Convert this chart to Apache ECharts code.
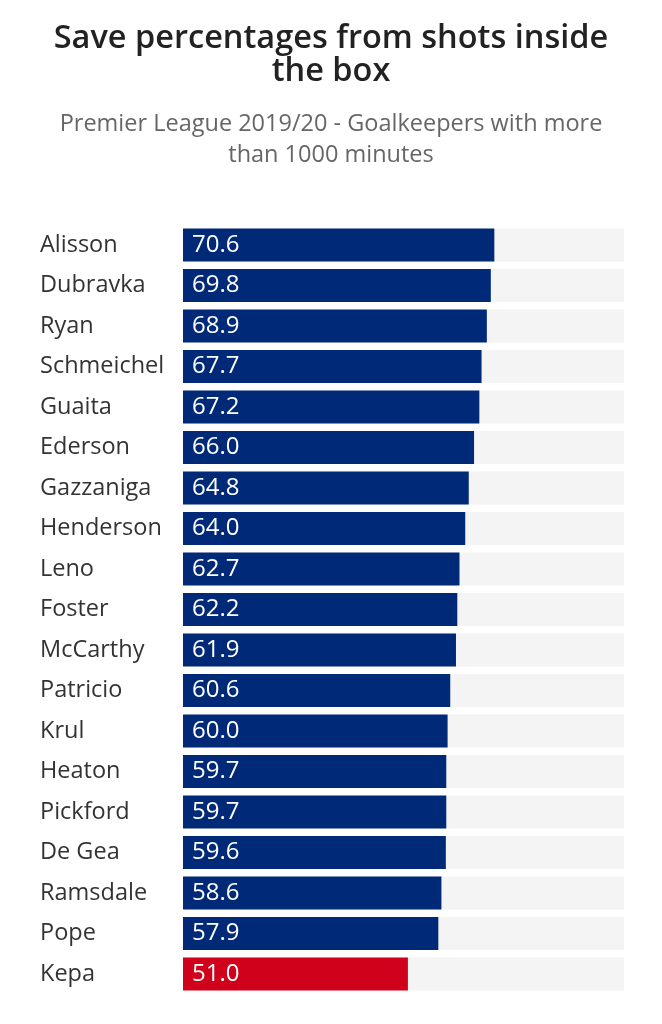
<!DOCTYPE html>
<html>
<head>
<meta charset="utf-8">
<script src="https://cdn.jsdelivr.net/npm/echarts@6/dist/echarts.min.js"></script>
<style>
html,body{margin:0;padding:0;background:#fff;}
#chart{width:662px;height:1024px;}
</style>
</head>
<body>
<div id="chart"></div>
<script>
const keepers = ["Alisson","Dubravka","Ryan","Schmeichel","Guaita","Ederson","Gazzaniga","Henderson","Leno","Foster","McCarthy","Patricio","Krul","Heaton","Pickford","De Gea","Ramsdale","Pope","Kepa"];
const savePct = [70.6,69.8,68.9,67.7,67.2,66.0,64.8,64.0,62.7,62.2,61.9,60.6,60.0,59.7,59.7,59.6,58.6,57.9,51.0];
const highlight = ["Kepa"];

const FONT = '"Open Sans", "Noto Sans", sans-serif';
const chart = echarts.init(document.getElementById('chart'));
chart.setOption({
  backgroundColor: '#ffffff',
  animation: false,
  title: [
    {
      text: 'Save percentages from shots inside\nthe box',
      left: 'center', top: 17,
      textStyle: {fontFamily: FONT, fontSize: 32.5, fontWeight: 600, color: '#222', lineHeight: 33}
    },
    {
      text: 'Premier League 2019/20 - Goalkeepers with more\nthan 1000 minutes',
      left: 'center', top: 104,
      textStyle: {fontFamily: FONT, fontSize: 23.5, fontWeight: 'normal', color: '#666', lineHeight: 31}
    }
  ],
  grid: {left: 183, right: 38, top: 224.7, bottom: 29.7, containLabel: false},
  xAxis: {
    type: 'value', min: 0, max: 100, show: false
  },
  yAxis: {
    type: 'category', inverse: true, data: keepers,
    axisLine: {show: false}, axisTick: {show: false}, splitLine: {show: false},
    axisLabel: {align: 'left', margin: 143, fontFamily: FONT, fontSize: 23.5, color: '#333', padding: [3, 0, 0, 0]}
  },
  series: [{
    type: 'bar',
    barWidth: 33,
    showBackground: true,
    backgroundStyle: {color: '#f4f4f4'},
    data: savePct.map((v, i) => ({
      value: v,
      itemStyle: {color: highlight.includes(keepers[i]) ? '#d0021b' : '#002a78'}
    })),
    label: {
      show: true, position: 'insideLeft', distance: 9,
      formatter: p => p.value.toFixed(1),
      fontFamily: FONT, fontSize: 24, color: '#fff'
    }
  }]
});
</script>
</body>
</html>
